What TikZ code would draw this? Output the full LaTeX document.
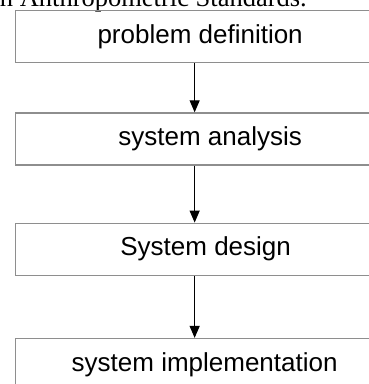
\documentclass[tikz,border=0pt]{standalone}
\usepackage{fontspec}
\setmainfont{Liberation Sans}
\newfontfamily\capfont{Liberation Serif}
\usetikzlibrary{positioning, arrows.meta}
\definecolor{boxline}{HTML}{8E8E8E}
\tikzset{
    x=1pt, y=-1pt, % pixel-like units, y going down
    stepbox/.style={draw=boxline, line width=1.3pt, minimum width=375pt, minimum height=52pt,
        inner sep=0pt, font=\fontsize{26}{29}\selectfont}, % the boxes of the chart
}
\tikzstyle{arrow} = [line width=1.2pt, -{Triangle[width=10pt,length=12pt]}]

\begin{document}
\begin{tikzpicture}
                \useasboundingbox (0,0) rectangle (369,384);
                \clip (0,0) rectangle (369,384);

                % caption line left over from the page above
                \node[anchor=base east, inner sep=0pt, font=\capfont\fontsize{26.5}{30}\selectfont] (cap) at (307,6) {n Anthropometric Standards.};

                \node[stepbox, anchor=north west] (pd) at (15,10) {\hspace*{-6pt}problem definition};
                \node[stepbox, below=49pt of pd] (sa) {\hspace*{14pt}system analysis};
                \node[stepbox, below=57pt of sa] (sd) {\hspace*{5pt}System design};
                \node[stepbox, below=62pt of sd] (si) {\hspace*{3pt}system implementation};

                \draw[arrow] ([xshift=-8.5pt]pd.south) -- ([xshift=-8.5pt]sa.north);
                \draw[arrow] ([xshift=-8.5pt]sa.south) -- ([xshift=-8.5pt]sd.north);
                \draw[arrow] ([xshift=-8.5pt]sd.south) -- ([xshift=-8.5pt]si.north);
            \end{tikzpicture}
\end{document}
